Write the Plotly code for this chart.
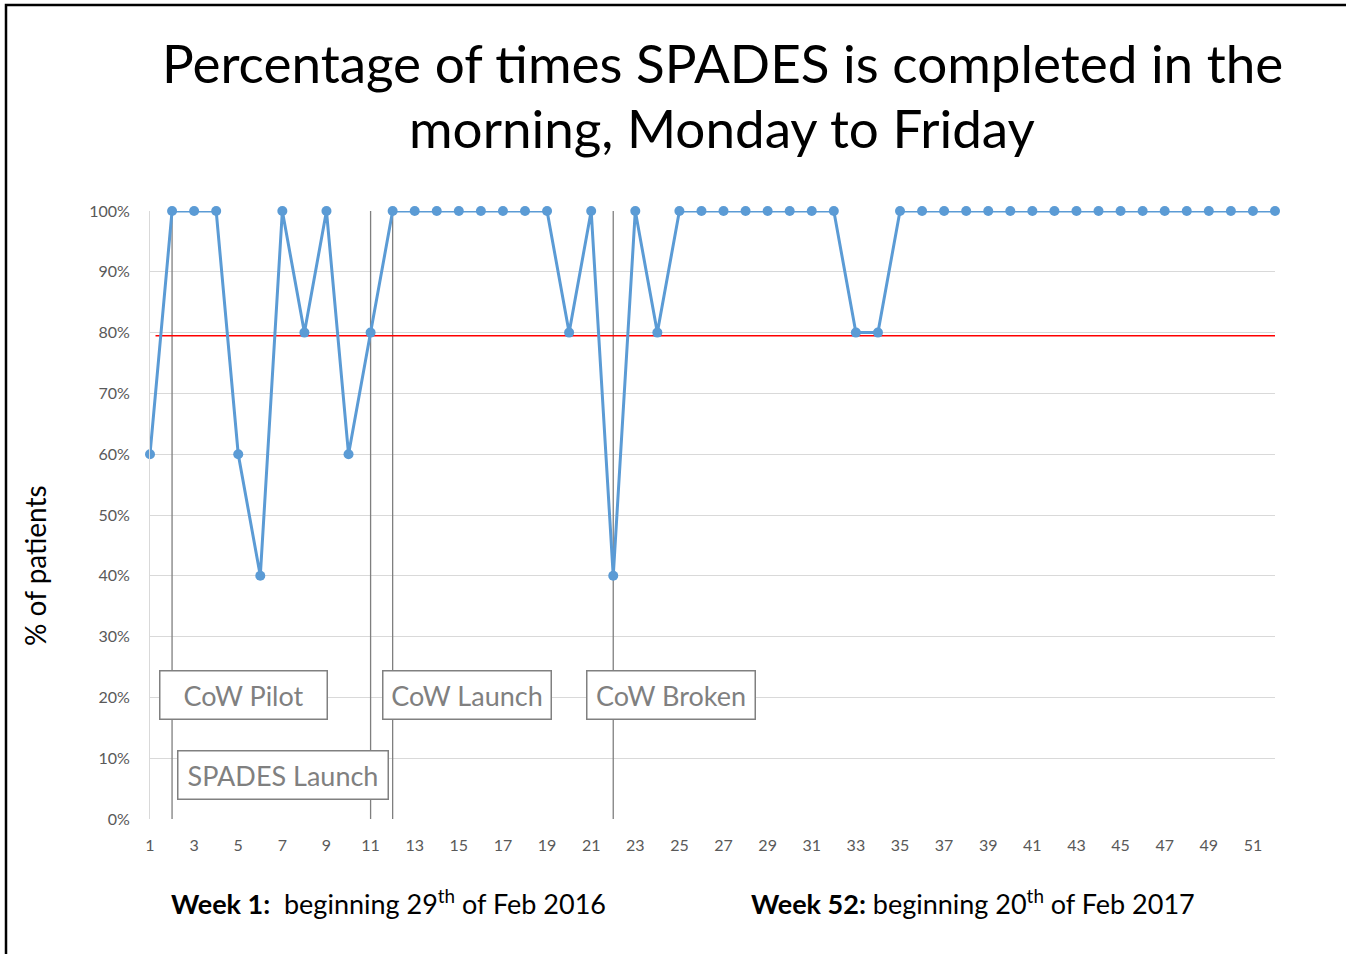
import plotly.graph_objects as go

# Weekly data, week 1 = beginning 29th Feb 2016
weeks = list(range(1, 53))
pct_morning = [
    60, 100, 100, 100, 60, 40, 100, 80, 100, 60,
    80, 100, 100, 100, 100, 100, 100, 100, 100, 80,
    100, 40, 100, 80, 100, 100, 100, 100, 100, 100,
    100, 100, 80, 80, 100, 100, 100, 100, 100, 100,
    100, 100, 100, 100, 100, 100, 100, 100, 100, 100,
    100, 100,
]

target_pct = 79.5
target_weeks = [1.25, 52]

event_weeks = [2, 11, 12, 22]
event_labels = ["CoW Pilot", "SPADES Launch", "CoW Launch", "CoW Broken"]

x_ticks = list(range(1, 53, 2))
y_ticks = list(range(0, 101, 10))

# body margin is removed in the page (post_script), so page px == figure px
W, H = 1346, 954
L, T = 150, 211
pw, ph = 1125, 608
R, B = W - L - pw, H - T - ph


def px(x):
    return (x - L) / pw


def py(y):
    return (T + ph - y) / ph


fig = go.Figure()

# vertical event markers
vx, vy = [], []
for w in event_weeks:
    vx += [w, w, None]
    vy += [0, 100, None]
fig.add_trace(go.Scatter(x=vx, y=vy, mode="lines",
                         line=dict(color="#7F7F7F", width=1.3),
                         hoverinfo="skip", cliponaxis=False))

# target line
fig.add_trace(go.Scatter(x=target_weeks, y=[target_pct] * 2, mode="lines",
                         line=dict(color="#FF0000", width=1.5),
                         hoverinfo="skip"))

# main series
fig.add_trace(go.Scatter(
    x=weeks, y=pct_morning, mode="lines+markers",
    line=dict(color="#5B9BD5", width=3),
    marker=dict(color="#5B9BD5", size=10),
    cliponaxis=False,
))

font_main = "Lato, Open Sans, sans-serif"

# event boxes: (label, x week, y pct, width px)
box_specs = [
    (event_labels[0], 5.22, 20.4, 166),
    (event_labels[1], 7.03, 7.3, 209),
    (event_labels[2], 15.38, 20.4, 167),
    (event_labels[3], 24.64, 20.4, 167),
]
annotations = []
for text, bx, by, bw in box_specs:
    annotations.append(dict(
        x=bx, y=by, xref="x", yref="y", text=text, showarrow=False,
        font=dict(family=font_main, size=27, color="#808080"),
        bgcolor="white", bordercolor="#808080", borderwidth=1.5,
        borderpad=0, width=bw, height=47,
    ))

# title, two lines
for line, yc in [("Percentage of times SPADES is completed in the", 63),
                 ("morning, Monday to Friday", 128)]:
    annotations.append(dict(
        x=px(722), y=py(yc), xref="paper", yref="paper",
        xanchor="center", yanchor="middle", showarrow=False, text=line,
        font=dict(family=font_main, size=53, color="black"),
    ))

# y axis title
annotations.append(dict(
    x=px(35), y=py(566), xref="paper", yref="paper",
    xanchor="center", yanchor="middle",
    text="% of patients", textangle=-90, showarrow=False,
    font=dict(family=font_main, size=28, color="black"),
))

# week footnotes
annotations.append(dict(
    x=px(169), y=py(902), xref="paper", yref="paper",
    xanchor="left", yanchor="middle", showarrow=False,
    text="<b>Week 1:</b>  beginning 29<sup>th</sup> of Feb 2016",
    font=dict(family=font_main, size=27, color="black"),
))
annotations.append(dict(
    x=px(749), y=py(902), xref="paper", yref="paper",
    xanchor="left", yanchor="middle", showarrow=False,
    text="<b>Week 52:</b> beginning 20<sup>th</sup> of Feb 2017",
    font=dict(family=font_main, size=27, color="black"),
))

# outer frame (left and top edges visible)
fl, ft, fb, fr = px(6), py(5), py(970), px(1360)
shapes = [dict(type="path", xref="paper", yref="paper",
               path=f"M {fl} {fb} L {fl} {ft} L {fr} {ft}",
               line=dict(color="black", width=2.5), layer="above")]

fig.update_layout(
    width=W, height=H,
    margin=dict(l=L, r=R, t=T, b=B),
    paper_bgcolor="white", plot_bgcolor="white",
    showlegend=False,
    annotations=annotations,
    shapes=shapes,
)

fig.update_xaxes(
    range=[1, 52], tickvals=x_ticks, showgrid=False, zeroline=False,
    showline=False, ticks="", ticklabelstandoff=15,
    tickfont=dict(family=font_main, size=16, color="#595959"),
)
fig.update_yaxes(
    range=[0, 100], tickvals=y_ticks, ticktext=[f"{v}%" for v in y_ticks],
    showgrid=True, gridcolor="#D9D9D9", gridwidth=1, zeroline=False,
    showline=True, linecolor="#D9D9D9", linewidth=1, mirror=False,
    ticks="", ticklabelstandoff=16,
    tickfont=dict(family=font_main, size=16, color="#595959"),
)

fig.write_html("out.html", config={"displayModeBar": False},
               post_script="document.body.style.margin='0';")
